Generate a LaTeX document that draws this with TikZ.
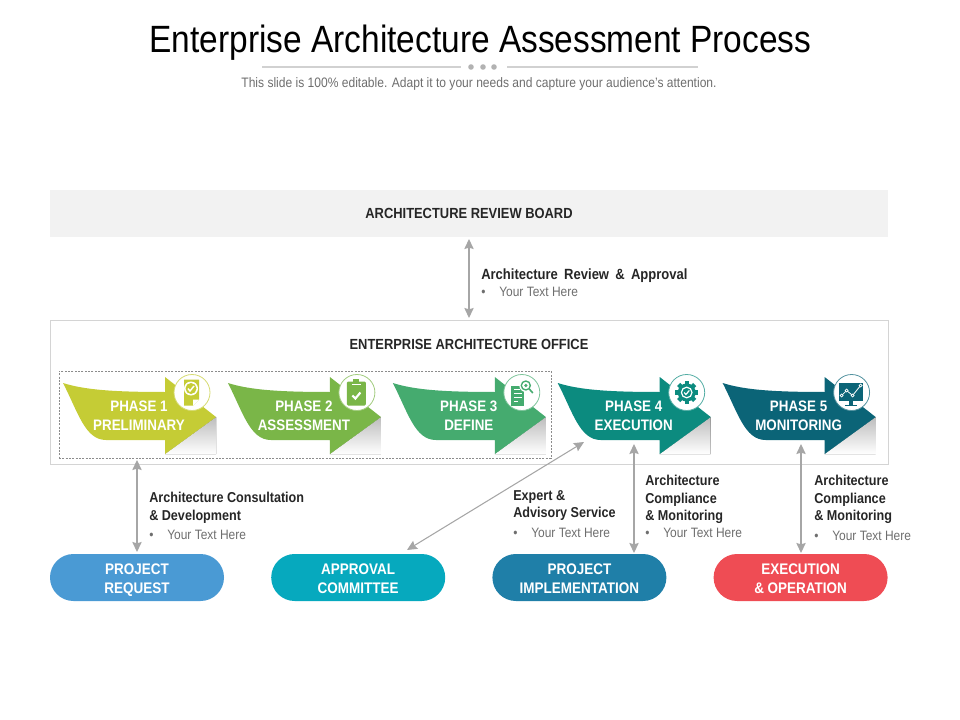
\documentclass[tikz,border=0pt]{standalone}
\usepackage{fontspec}
\setmainfont[FakeStretch=0.88]{Liberation Sans}
\usetikzlibrary{arrows.meta,positioning}

\definecolor{phaseone}{HTML}{C5CC35}
\definecolor{phasetwo}{HTML}{7AB648}
\definecolor{phasethree}{HTML}{45AB6F}
\definecolor{phasefour}{HTML}{0C8B7F}
\definecolor{phasefive}{HTML}{0B6477}
\definecolor{pillblue}{HTML}{4A9AD4}
\definecolor{pillcyan}{HTML}{06A9BE}
\definecolor{pillteal}{HTML}{1F7FA8}
\definecolor{pillred}{HTML}{EF4C54}
\definecolor{darktext}{HTML}{262626}
\definecolor{softtext}{HTML}{6E6E6E}
\definecolor{linkgray}{HTML}{A6A6A6}

\tikzset{
	pill/.style = {rectangle,rounded corners=17.6pt,minimum width=130.5pt,minimum height=35.25pt,inner sep=0pt,
		align=center,text=white,font=\fontsize{11.5}{14.4}\selectfont\bfseries,
		execute at end node=\rule[-3pt]{0pt}{3pt}},
	phasetext/.style = {align=center,text=white,font=\fontsize{11.4}{14.4}\selectfont\bfseries},
	headtext/.style = {align=center,text=darktext,font=\fontsize{11}{14}\selectfont\bfseries},
	notetext/.style = {anchor=north west,inner sep=0pt,align=left,text=darktext,font=\fontsize{10.75}{13.2}\selectfont\bfseries},
	link/.style = {<->,draw=linkgray,line width=0.8pt}
}

\newcommand{\pilltop}{\rule{0pt}{12.8pt}}
\newcommand{\yourtext}[1][1.2pt]{\\[#1]{\mdseries\fontsize{10.2}{13.2}\selectfont\color{softtext}\makebox[13.5pt][l]{\textbullet}Your Text Here}}

\newcommand{\iconplan}[1]{
	\fill[#1] (-8,-13) -- (7,-13) -- (7,7) -- (1,13) -- (-8,13) -- cycle;
	\fill[white] (1,13) -- (1,7) -- (7,7) -- cycle;
	\fill[white] (-1,-4) circle (7);
	\fill[#1] (-1,-4) circle (5.5);
	\draw[white,line width=1.1pt] (-4,-4) -- (-2,-1.5) -- (2,-6.5);
}
\newcommand{\iconclip}[1]{
	\fill[#1,rounded corners=1pt] (-10,-11) rectangle (9,13);
	\fill[#1] (-3.5,-13.5) rectangle (2.5,-9);
	\draw[white,line width=0.5pt] (-5,-8) -- (4,-8);
	\draw[white,line width=1.6pt] (-4.5,3) -- (-1.5,6) -- (3.5,0);
}
\newcommand{\icondoc}[1]{
	\fill[#1] (-11,-7) rectangle (2,13);
	\draw[white,line width=0.9pt] (-8,-3) -- (-2,-3) (-8,1) -- (0,1) (-8,5) -- (0,5) (-8,9) -- (-4,9);
	\fill[white] (4,-7) circle (6.5);
	\draw[#1,line width=1pt] (4,-7) circle (4.5);
	\fill[#1] (4,-7) circle (1.8);
	\draw[#1,line width=1.2pt] (7.5,-3.5) -- (11,0.5);
}
\newcommand{\icongear}[1]{
	\foreach \tooth in {0,45,...,315}
		\fill[#1,rotate=\tooth] (-2.2,-11.3) rectangle (2.2,-7);
	\fill[#1] (0,0) circle (9);
	\draw[white,line width=0.9pt] (0,0) circle (5.3);
	\draw[white,line width=0.9pt] (-2.5,0) -- (-0.8,2) -- (2.6,-2);
}
\newcommand{\iconscreen}[1]{
	\fill[#1] (-12.5,-10) rectangle (11.5,8);
	\fill[#1] (-2.5,8) rectangle (1.5,12);
	\fill[#1] (-7,12) rectangle (5.5,13.5);
	\draw[white,line width=0.6pt] (-10,3) -- (-5,-2) -- (1,3) -- (9,-7);
	\foreach \spot in {(-10,3),(-5,-2),(1,3),(9,-7)}
		\draw[white,fill=#1,line width=0.5pt] \spot circle (1.5);
}

\begin{document}
\begin{tikzpicture}
	[x=0.75pt,y=-0.75pt,>={Stealth[length=7.5pt,width=7pt,inset=1pt]},node distance=35pt]
\useasboundingbox (0,0) rectangle (960,720);

% heading
\node (title) at (480.5,42.5) {\fontsize{28.5}{30}\selectfont Enterprise Architecture Assessment Process};
\node[text=softtext] (subtitle) at (479,84) {\fontsize{10.27}{12}\selectfont This slide is 100\% editable. Adapt it to your needs and capture your audience's attention.};
\draw[black!18,line width=1pt] (262,67) -- (461,67) (507,67) -- (698,67);
\foreach \spot in {471,483,494}
	\fill[black!30] (\spot,67) circle (2.8);

% boxes
\node[fill=black!5,minimum width=628.5pt,minimum height=35.25pt,inner sep=0pt,headtext] (board) at (469,213.5) {ARCHITECTURE REVIEW BOARD};
\node[draw=black!17,line width=0.7pt,minimum width=628.5pt,minimum height=108.5pt,inner sep=0pt] (office) at (469,392.5) {};
\node[headtext] (officetitle) at (469,344.5) {ENTERPRISE ARCHITECTURE OFFICE};
\node[draw=black!45,dash pattern=on 1.5pt off 1pt,line width=0.4pt,minimum width=369pt,minimum height=65.25pt,inner sep=0pt] (group) at (305,414.5) {};

% phases
\foreach \i/\tone/\icon/\lineone/\linetwo in {
	0/phaseone/\iconplan/PHASE 1/PRELIMINARY,
	1/phasetwo/\iconclip/PHASE 2/ASSESSMENT,
	2/phasethree/\icondoc/PHASE 3/DEFINE,
	3/phasefour/\icongear/PHASE 4/EXECUTION,
	4/phasefive/\iconscreen/PHASE 5/MONITORING}
{
	\begin{scope}[shift={({164.9*\i},0)}]
		\fill[top color=black!26,bottom color=white] (216,417) -- (216,454) -- (165,454) -- cycle;
		\fill[\tone] (63,383) .. controls (85,390) and (115,392) .. (165,392) -- (165,377) -- (216,417) -- (165,454) -- (165,440)
			-- (106,440) .. controls (85,440) and (78,412) .. cycle;
		\node[phasetext] (phase\i) at (139,416) {\lineone\\\linetwo};
		\begin{scope}[shift={(192,392.5)}]
			\draw[\tone!70,fill=white,line width=0.6pt] (0,0) circle (18);
			\icon{\tone}
		\end{scope}
	\end{scope}
}

% bottom row
\node[pill,fill=pillblue] (request) at (137,577.5) {\pilltop PROJECT\\REQUEST};
\node[pill,fill=pillcyan] (approval) [right = of request] {\pilltop APPROVAL\\COMMITTEE};
\node[pill,fill=pillteal] (implementation) [right = of approval] {\pilltop PROJECT\\IMPLEMENTATION};
\node[pill,fill=pillred] (operation) [right = of implementation] {\pilltop EXECUTION\\\& OPERATION};

% notes
\node[notetext] (notereview) at (481,269) {{\fontsize{11.1}{13.2}\selectfont\spaceskip=4.7pt Architecture Review \& Approval}\yourtext[-0.7pt]};
\node[notetext] (noteconsult) at (149,492) {Architecture Consultation\\\& Development\yourtext};
\node[notetext] (noteexpert) at (513,490) {Expert \&\\Advisory Service\yourtext[1.8pt]};
\node[notetext] (notecomply) at (645,475) {Architecture\\Compliance\\\& Monitoring\yourtext[-0.7pt]};
\node[notetext] (notecomplytwo) at (814,475) {Architecture\\Compliance\\\& Monitoring\yourtext};

% connectors
\coordinate (boardout) at (469,239);
\coordinate (officein) at (469,318);
\coordinate (requestout) at (137,552);
\coordinate (requestin) at (137,460);
\coordinate (approvalout) at (407,550);
\coordinate (approvalin) at (584,442);
\coordinate (implout) at (634,553);
\coordinate (implin) at (634,444);
\coordinate (operout) at (801,553);
\coordinate (operin) at (801,444);

\path
	(boardout) edge[link] (officein)
	(requestout) edge[link] (requestin)
	(approvalout) edge[link] (approvalin)
	(implout) edge[link] (implin)
	(operout) edge[link] (operin);
\end{tikzpicture}
\end{document}
